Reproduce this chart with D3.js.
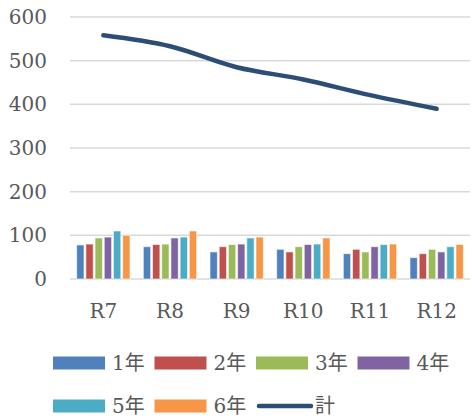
<!DOCTYPE html>
<html>
<head>
<meta charset="utf-8">
<script src="https://cdn.jsdelivr.net/npm/d3@7"></script>
<style>
  body { margin: 0; background: #fff; }
  text { font-family: "DejaVu Serif", "Liberation Serif", "Noto Sans CJK JP", serif; fill: #595959; }
</style>
</head>
<body>
<div id="chart"></div>
<script>
const categories = ["R7", "R8", "R9", "R10", "R11", "R12"];
const seriesNames = ["1年", "2年", "3年", "4年", "5年", "6年"];
const grade1 = [78, 74, 62, 68, 58, 49];
const grade2 = [80, 79, 74, 62, 68, 58];
const grade3 = [94, 80, 79, 74, 62, 68];
const grade4 = [96, 94, 80, 79, 74, 62];
const grade5 = [110, 96, 94, 80, 79, 74];
const grade6 = [100, 110, 96, 94, 80, 79];
const totals = [558, 533, 485, 457, 421, 390];
const totalName = "計";
const yTicks = [0, 100, 200, 300, 400, 500, 600];

const colors = ["#4f81bd", "#c0504d", "#9bbb59", "#8064a2", "#4bacc6", "#f79646"];
const lineColor = "#2c4d75";

const width = 472, height = 419;
const margin = {top: 17, right: 2, bottom: 140, left: 70};

const svg = d3.select("#chart").append("svg")
    .attr("width", width)
    .attr("height", height);

const x = d3.scaleBand()
    .domain(categories)
    .range([margin.left, width - margin.right]);

const y = d3.scaleLinear()
    .domain([0, 600])
    .range([height - margin.bottom, margin.top]);

const xInner = d3.scaleBand()
    .domain(seriesNames)
    .range([0, x.bandwidth() * 0.8])
    .paddingInner(0.2);

// gridlines
svg.append("g")
    .selectAll("line")
    .data(yTicks)
    .enter()
    .append("line")
    .attr("x1", margin.left)
    .attr("x2", width - margin.right)
    .attr("y1", d => y(d))
    .attr("y2", d => y(d))
    .attr("stroke", "#d9d9d9")
    .attr("stroke-width", 1.5);

// y labels
svg.append("g")
    .selectAll("text")
    .data(yTicks)
    .enter()
    .append("text")
    .attr("x", 47)
    .attr("y", d => y(d))
    .attr("dy", "0.35em")
    .attr("text-anchor", "end")
    .style("font-size", "20px")
    .text(d => d);

// bars
const grades = [grade1, grade2, grade3, grade4, grade5, grade6];
grades.forEach((vals, i) => {
    svg.append("g")
        .selectAll("rect")
        .data(vals)
        .enter()
        .append("rect")
        .attr("x", (d, j) => x(categories[j]) + x.bandwidth() * 0.1 + xInner(seriesNames[i]))
        .attr("y", d => y(d))
        .attr("width", xInner.bandwidth())
        .attr("height", d => y(0) - y(d))
        .attr("fill", colors[i])
        .attr("stroke", "#fff")
        .attr("stroke-opacity", 0.6)
        .attr("stroke-width", 1);
});

// total line
const line = d3.line()
    .x((d, i) => x(categories[i]) + x.bandwidth() / 2)
    .y(d => y(d))
    .curve(d3.curveCatmullRom.alpha(0.5));

svg.append("path")
    .datum(totals)
    .attr("d", line)
    .attr("fill", "none")
    .attr("stroke", lineColor)
    .attr("stroke-width", 4.5)
    .attr("stroke-linecap", "round")
    .attr("stroke-linejoin", "round");

// x labels
svg.append("g")
    .selectAll("text")
    .data(categories)
    .enter()
    .append("text")
    .attr("x", d => x(d) + x.bandwidth() / 2)
    .attr("y", 318)
    .attr("text-anchor", "middle")
    .style("font-size", "20px")
    .text(d => d);

// legend
const legendItems = seriesNames.map((n, i) => ({name: n, color: colors[i], type: "bar"}))
    .concat([{name: totalName, color: lineColor, type: "line"}]);

const legend = svg.append("g");
legendItems.forEach((item, i) => {
    const col = i % 4, row = Math.floor(i / 4);
    const lx = 53 + col * 101.5;
    const ly = 363 + row * 43;
    if (item.type === "bar") {
        legend.append("rect")
            .attr("x", lx)
            .attr("y", ly - 6.5)
            .attr("width", 52)
            .attr("height", 13)
            .attr("fill", item.color);
    } else {
        legend.append("line")
            .attr("x1", lx + 3)
            .attr("x2", lx + 55)
            .attr("y1", ly)
            .attr("y2", ly)
            .attr("stroke", item.color)
            .attr("stroke-width", 4.5)
            .attr("stroke-linecap", "round");
    }
    legend.append("text")
        .attr("x", lx + 59)
        .attr("y", ly)
        .attr("dy", "0.35em")
        .style("font-size", "20px")
        .text(item.name);
});
</script>
</body>
</html>
